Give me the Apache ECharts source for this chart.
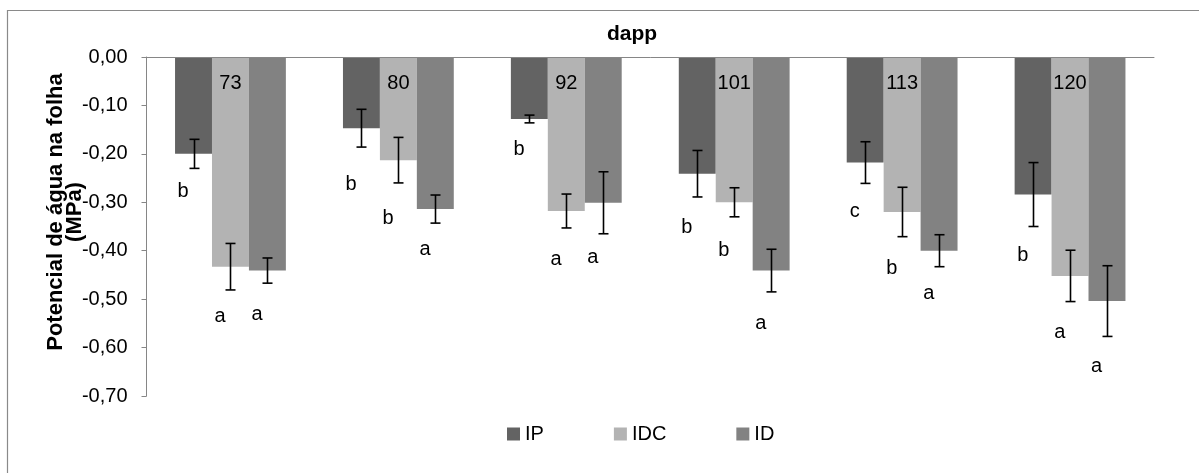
<!DOCTYPE html>
<html>
<head>
<meta charset="utf-8">
<script src="https://cdn.jsdelivr.net/npm/echarts@6/dist/echarts.min.js"></script>
<style>
html,body{margin:0;padding:0;background:#fff;}
#chart{width:1199px;height:473px;}
</style>
</head>
<body>
<div id="chart"></div>
<script>
// ---- data ----
const categories = ['73', '80', '92', '101', '113', '120'];
const seriesNames = ['IP', 'IDC', 'ID'];
const ipValues  = [-0.200, -0.147, -0.128, -0.241, -0.218, -0.284];
const idcValues = [-0.433, -0.213, -0.318, -0.300, -0.320, -0.452];
const idValues  = [-0.441, -0.314, -0.301, -0.441, -0.400, -0.504];
const ipErr  = [0.030, 0.039, 0.008, 0.048, 0.043, 0.066];
const idcErr = [0.048, 0.047, 0.035, 0.030, 0.051, 0.053];
const idErr  = [0.026, 0.029, 0.064, 0.044, 0.033, 0.073];
const ipLetters  = ['b', 'b', 'b', 'b', 'c', 'b'];
const idcLetters = ['a', 'b', 'a', 'b', 'b', 'a'];
const idLetters  = ['a', 'a', 'a', 'a', 'a', 'a'];
// value-axis level at which each significance letter sits
const ipLetterAt  = [-0.278, -0.264, -0.192, -0.353, -0.320, -0.409];
const idcLetterAt = [-0.535, -0.333, -0.419, -0.399, -0.436, -0.568];
const idLetterAt  = [-0.531, -0.397, -0.413, -0.550, -0.488, -0.640];
const axisTitle = 'dapp';
const yName = 'Potencial de água na folha\n(MPa)';

// ---- build ----
const FONT = '"Liberation Sans", Arial, sans-serif';
const colors = ['#636363', '#b3b3b3', '#828282'];
const BAR_FRAC = 0.22;
const values = [ipValues, idcValues, idValues];
const errs = [ipErr, idcErr, idErr];
const letters = [ipLetters, idcLetters, idLetters];
const letterAt = [ipLetterAt, idcLetterAt, idLetterAt];

const errData = [];
const letterData = [];
for (let s = 0; s < 3; s++) {
  for (let i = 0; i < categories.length; i++) {
    errData.push([i, s, values[s][i] - errs[s][i], values[s][i] + errs[s][i]]);
    letterData.push([i, s, letterAt[s][i], letters[s][i]]);
  }
}

const barSeries = seriesNames.map((n, s) => ({
  name: n,
  type: 'bar',
  data: values[s],
  barWidth: (BAR_FRAC * 100) + '%',
  barGap: '0%',
  itemStyle: { color: colors[s] },
  z: 2
}));

const chart = echarts.init(document.getElementById('chart'), null, { renderer: 'canvas' });
chart.setOption({
  animation: false,
  backgroundColor: '#fff',
  textStyle: { fontFamily: FONT },
  title: {
    text: axisTitle,
    left: 627, top: 19, textAlign: 'center',
    textStyle: { fontFamily: FONT, fontSize: 21, fontWeight: 'bold', color: '#000' }
  },
  legend: {
    data: seriesNames,
    left: 502, top: 419,
    icon: 'rect', itemWidth: 13, itemHeight: 13, itemGap: 70,
    textStyle: { fontFamily: FONT, fontSize: 20, color: '#000' }
  },
  grid: { left: 146.5, right: 45, top: 57, bottom: 77, containLabel: false },
  xAxis: {
    type: 'category', data: categories, position: 'top', z: 10,
    axisLine: { lineStyle: { color: '#868686', width: 1 } },
    axisTick: { inside: true, length: 6, lineStyle: { color: '#868686' } },
    axisLabel: { inside: true, margin: 16, fontSize: 20, color: '#000', fontFamily: FONT }
  },
  yAxis: {
    type: 'value', min: -0.7, max: 0, interval: 0.1,
    axisLine: { show: true, lineStyle: { color: '#868686', width: 1 } },
    axisTick: { show: true, inside: false, length: 5, lineStyle: { color: '#868686' } },
    splitLine: { show: false },
    axisLabel: {
      margin: 19, fontSize: 20, color: '#000', fontFamily: FONT,
      formatter: v => v.toFixed(2).replace('.', ',')
    }
  },
  graphic: [
    {
      type: 'rect', silent: true,
      shape: { x: 7.5, y: 10.5, width: 1400, height: 800 },
      style: { fill: 'none', stroke: '#8a8a8a', lineWidth: 1.2 }
    },
    {
      type: 'text', x: 65, y: 212, rotation: Math.PI / 2,
      style: {
        text: yName, font: 'bold 22px ' + FONT, fill: '#000',
        align: 'center', verticalAlign: 'middle', lineHeight: 19
      }
    }
  ],
  series: barSeries.concat([
    {
      type: 'custom', name: 'err', z: 4, silent: true,
      encode: { x: 0, y: [2, 3] },
      data: errData,
      renderItem: function (params, api) {
        const cat = api.value(0), s = api.value(1);
        const lo = api.coord([cat, api.value(2)]);
        const hi = api.coord([cat, api.value(3)]);
        const bw = api.size([1, 0])[0] * BAR_FRAC;
        const x = Math.round(lo[0] + (s - 1) * bw) + 0.5;
        const cap = 5;
        const st = { stroke: '#000', lineWidth: 1.6 };
        return {
          type: 'group',
          children: [
            { type: 'line', shape: { x1: x, y1: hi[1], x2: x, y2: lo[1] }, style: st },
            { type: 'line', shape: { x1: x - cap, y1: hi[1], x2: x + cap, y2: hi[1] }, style: st },
            { type: 'line', shape: { x1: x - cap, y1: lo[1], x2: x + cap, y2: lo[1] }, style: st }
          ]
        };
      }
    },
    {
      type: 'custom', name: 'letters', z: 5, silent: true,
      encode: { x: 0, y: 2 },
      data: letterData,
      renderItem: function (params, api) {
        const cat = api.value(0), s = api.value(1);
        const p = api.coord([cat, api.value(2)]);
        const bw = api.size([1, 0])[0] * BAR_FRAC;
        const x = p[0] + (s - 1) * bw - 0.28 * bw;
        return {
          type: 'text',
          x: x, y: p[1],
          style: {
            text: letterData[params.dataIndex][3],
            font: '20px ' + FONT, fill: '#000',
            align: 'center', verticalAlign: 'middle'
          }
        };
      }
    }
  ])
});
</script>
</body>
</html>
